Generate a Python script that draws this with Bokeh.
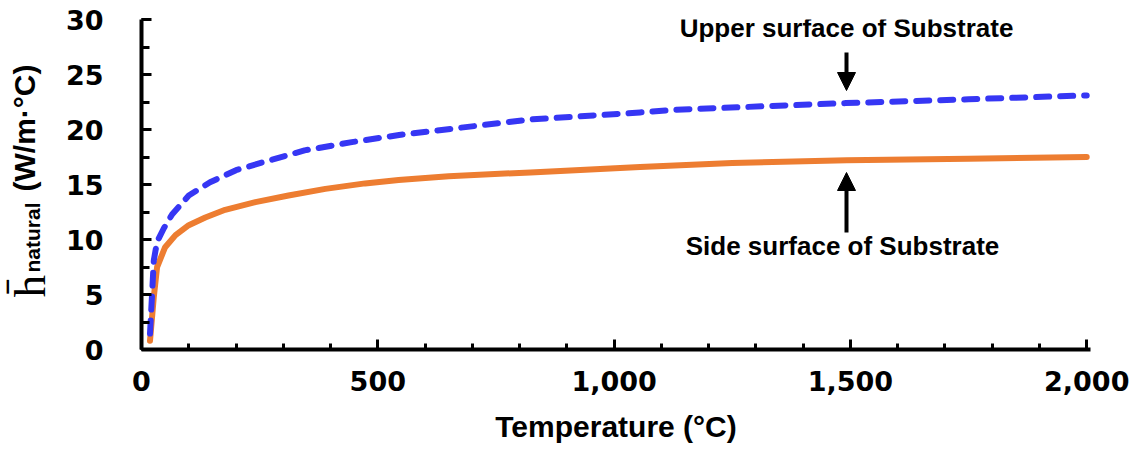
import math
from bokeh.plotting import figure
from bokeh.layouts import row
from bokeh.core.properties import value
from bokeh.models import (ColumnDataSource, Range1d, SingleIntervalTicker,
                          NumeralTickFormatter, Label, Arrow, NormalHead)
from bokeh.embed import file_html
from bokeh.resources import INLINE

# ---------------- data ----------------
temp_upper = [18, 22, 26, 33, 47, 65, 100, 145, 200, 255, 345, 445, 545, 820,
              1055, 1130, 1490, 1750, 2000]
h_upper = [1.45, 4.75, 8.1, 9.8, 11.0, 12.3, 14.0, 15.2, 16.3, 17.0, 18.1,
           18.85, 19.5, 20.9, 21.55, 21.8, 22.4, 22.75, 23.1]

temp_side = [18, 26, 33, 50, 72, 100, 135, 177, 241, 311, 389, 473, 544, 650,
             823, 1055, 1250, 1492, 1750, 2000]
h_side = [0.8, 4.75, 7.5, 9.3, 10.4, 11.3, 12.0, 12.7, 13.4, 14.0, 14.6, 15.1,
          15.4, 15.75, 16.1, 16.6, 16.95, 17.2, 17.35, 17.5]

x_ticks_step = 500
y_ticks_step = 5
x_title = "Temperature (°C)"
y_title_h = "h\u0304"
y_title_sub = "natural"
y_title_unit = "(W/m·°C)"
label_upper = "Upper surface of Substrate"
label_side = "Side surface of Substrate"

# ---------------- layout ----------------
W, H = 1136, 451
LW = 60                     # width of the strip holding the y title
FL, FR, FT, FB = 141, 1090, 19, 349   # frame edges in page pixels
X0, X1 = 0, 2008
Y0, Y1 = 0, 30


def px_x(px):
    return X0 + (px - FL) * (X1 - X0) / (FR - FL)


def px_y(py):
    return Y0 + (FB - py) * (Y1 - Y0) / (FB - FT)


# ---- left strip: rotated y title composed of pieces ----
t = figure(width=LW, height=H, output_backend="svg", toolbar_location=None,
           x_range=Range1d(0, LW), y_range=Range1d(H, 0),
           x_axis_location=None, y_axis_location=None, min_border=0)
t.frame_align = False
t.outline_line_color = None
t.grid.visible = False
t.border_fill_color = "white"
t.text(x=[29], y=[297], text=[y_title_h], angle=math.pi / 2,
       text_font=value("Liberation Serif"), text_font_size=value("45px"),
       text_align="left", text_baseline="alphabetic", text_color="black")
t.text(x=[32], y=[272], text=[y_title_sub], angle=math.pi / 2,
       text_font=value("Liberation Sans"), text_font_style="bold",
       text_font_size=value("21px"), text_align="left",
       text_baseline="alphabetic", text_color="black")
t.text(x=[24], y=[191], text=[y_title_unit], angle=math.pi / 2,
       text_font=value("Liberation Sans"), text_font_style="bold",
       text_font_size=value("30px"), text_align="left",
       text_baseline="alphabetic", text_color="black")

# ---- main chart ----
p = figure(width=W - LW, height=H, output_backend="svg", toolbar_location=None,
           x_range=Range1d(X0, X1), y_range=Range1d(Y0, Y1),
           min_border_left=FL - LW, min_border_right=W - FR,
           min_border_top=FT, min_border_bottom=H - FB)
p.frame_align = False
p.outline_line_color = None
p.grid.visible = False
p.background_fill_color = "white"
p.border_fill_color = "white"

src_u = ColumnDataSource(dict(t=temp_upper, h=h_upper))
src_s = ColumnDataSource(dict(t=temp_side, h=h_side))
p.line("t", "h", source=src_s, line_color="#ED7D31", line_width=6,
       line_join="round", line_cap="round")
p.line("t", "h", source=src_u, line_color="#3636F4", line_width=6,
       line_dash="13 11", line_cap="round", line_join="round")

for ax in (p.xaxis[0], p.yaxis[0]):
    ax.axis_line_width = 4
    ax.axis_line_color = "black"
    ax.major_tick_line_width = 3
    ax.minor_tick_line_width = 3
    ax.major_tick_line_color = "black"
    ax.minor_tick_line_color = "black"
    ax.major_tick_out = 0
    ax.minor_tick_out = 0
    ax.major_label_text_font = "DejaVu Sans"
    ax.major_label_text_font_style = "bold"
    ax.major_label_text_font_size = "27px"
    ax.major_label_text_color = "black"

p.xaxis.ticker = SingleIntervalTicker(interval=x_ticks_step, num_minor_ticks=5)
p.xaxis.formatter = NumeralTickFormatter(format="0,0")
p.xaxis.major_tick_in = 10
p.xaxis.minor_tick_in = 6
p.xaxis.major_label_standoff = 21
p.xaxis.axis_label = x_title
p.xaxis.axis_label_text_font = "Liberation Sans"
p.xaxis.axis_label_text_font_style = "bold"
p.xaxis.axis_label_text_font_size = "30px"
p.xaxis.axis_label_text_color = "black"
p.xaxis.axis_label_standoff = 16

p.yaxis.ticker = SingleIntervalTicker(interval=y_ticks_step, num_minor_ticks=2)
p.yaxis.major_tick_in = 10
p.yaxis.minor_tick_in = 8
p.yaxis.major_label_standoff = 38

# annotations
p.add_layout(Label(x=px_x(846), y=px_y(27), text=label_upper,
                   text_font="Liberation Sans", text_font_style="bold",
                   text_font_size="26px", text_align="center",
                   text_baseline="alphabetic", text_color="black"))
p.add_layout(Label(x=px_x(842), y=px_y(245), text=label_side,
                   text_font="Liberation Sans", text_font_style="bold",
                   text_font_size="26px", text_align="center",
                   text_baseline="alphabetic", text_color="black"))

p.add_layout(Arrow(x_start=px_x(846), y_start=px_y(52), x_end=px_x(846),
                   y_end=px_y(90), line_width=4, line_color="black",
                   end=NormalHead(size=18, fill_color="black",
                                  line_color="black", line_width=1)))
p.add_layout(Arrow(x_start=px_x(846), y_start=px_y(232), x_end=px_x(846),
                   y_end=px_y(172), line_width=4, line_color="black",
                   end=NormalHead(size=18, fill_color="black",
                                  line_color="black", line_width=1)))

layout = row(t, p)
open("out.html", "w").write(file_html(layout, INLINE))
